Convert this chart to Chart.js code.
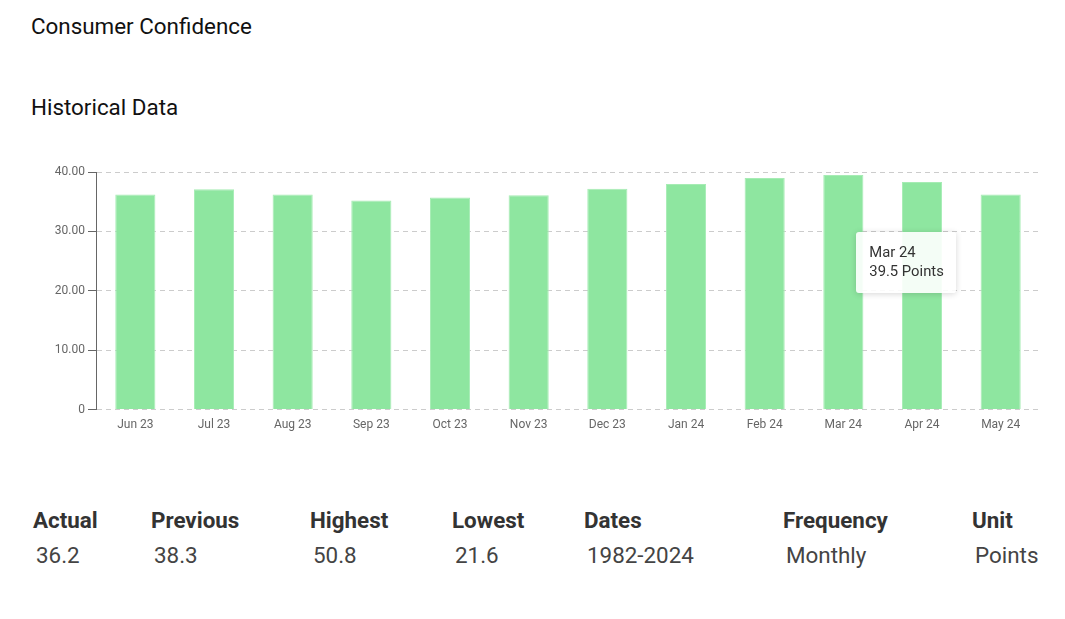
<!DOCTYPE html>
<html>
<head>
<meta charset="utf-8">
<script src="https://cdn.jsdelivr.net/npm/chart.js@4/dist/chart.umd.min.js"></script>
<style>
	body { margin: 0; background: #fff; font-family: Roboto, sans-serif; color: #222; }
	.page { position: relative; width: 1065px; height: 619px; overflow: hidden; }
	.title { position: absolute; left: 31px; font-size: 22.4px; line-height: 26px; color: #111; }
	.chart-wrap { position: absolute; left: 0; top: 150px; width: 1065px; height: 290px; }
	.stat { position: absolute; top: 507px; }
	.stat-label { font-weight: 700; font-size: 22.4px; line-height: 26px; color: #333; }
	.stat-value { font-size: 22.4px; line-height: 26px; color: #444; margin-top: 9px; padding-left: 3px; }
	.tip {
		position: absolute; pointer-events: none; background: rgba(255, 255, 255, 0.9);
		border-radius: 3px; box-shadow: 0 1px 6px rgba(0, 0, 0, 0.16);
		padding: 11px 12px 12px 13px; font-size: 14.8px; line-height: 19px; color: #333; white-space: nowrap;
	}
</style>
</head>
<body>
<div class="page">
	<div class="title" style="top:13px">Consumer Confidence</div>
	<div class="title" style="top:94px">Historical Data</div>
	<div class="chart-wrap"><canvas id="chart"></canvas></div>
	<div id="stats"></div>
</div>
<script>
'use strict'

const labels = ['Jun 23', 'Jul 23', 'Aug 23', 'Sep 23', 'Oct 23', 'Nov 23', 'Dec 23', 'Jan 24', 'Feb 24', 'Mar 24', 'Apr 24', 'May 24']
const values = [36.2, 37.1, 36.2, 35.2, 35.7, 36.1, 37.2, 38.0, 39.0, 39.5, 38.3, 36.2]
const yTicks = [0, 10, 20, 30, 40]
const unit = 'Points'

const statNames = ['Actual', 'Previous', 'Highest', 'Lowest', 'Dates', 'Frequency', 'Unit']
const statValues = ['36.2', '38.3', '50.8', '21.6', '1982-2024', 'Monthly', 'Points']
const statLeft = [33, 151, 310, 452, 584, 783, 972]

function renderStats() {
	const elStats = document.getElementById('stats')
	elStats.innerHTML = statNames
		.map(
			(name, i) => `
        <div class="stat" style="left:${statLeft[i]}px">
            <div class="stat-label">${name}</div>
            <div class="stat-value">${statValues[i]}</div>
        </div>`
		)
		.join('')
}

function externalTooltip(context) {
	const { chart, tooltip } = context
	let elTip = chart.canvas.parentNode.querySelector('.tip')
	if (!elTip) {
		elTip = document.createElement('div')
		elTip.className = 'tip'
		chart.canvas.parentNode.appendChild(elTip)
	}
	if (tooltip.opacity === 0) {
		elTip.style.display = 'none'
		return
	}
	const point = tooltip.dataPoints[0]
	elTip.innerHTML = `${point.label}<br>${point.raw} ${unit}`
	elTip.style.display = 'block'
	elTip.style.left = tooltip.caretX + 13 + 'px'
	elTip.style.top = tooltip.caretY + 57 + 'px'
}

function renderChart() {
	const ctx = document.getElementById('chart')
	const chart = new Chart(ctx, {
		type: 'bar',
		data: {
			labels: labels,
			datasets: [
				{
					data: values,
					backgroundColor: '#8ee6a0',
					hoverBackgroundColor: '#8ee6a0',
					borderColor: '#a6ecb4',
					borderWidth: 1,
					categoryPercentage: 1,
					barPercentage: 0.51,
				},
			],
		},
		options: {
			responsive: true,
			maintainAspectRatio: false,
			animation: false,
			layout: { padding: { top: 22, right: 25, bottom: 0, left: 0 } },
			plugins: {
				legend: { display: false },
				tooltip: { enabled: false, external: externalTooltip },
			},
			scales: {
				x: {
					grid: { display: false, drawTicks: false },
					border: { display: false },
					ticks: { color: '#666', font: { family: 'Roboto', size: 12 }, padding: 8, maxRotation: 0 },
				},
				y: {
					min: 0,
					max: 40,
					afterFit: scale => { scale.width = 96 },
					afterBuildTicks: scale => { scale.ticks = yTicks.map(v => ({ value: v })) },
					grid: { color: '#cccccc', tickColor: '#666', tickLength: 8, tickBorderDash: [] },
					border: { display: true, color: '#666', dash: [5, 4], width: 1 },
					ticks: {
						color: '#666',
						font: { family: 'Roboto', size: 12 },
						padding: 3,
						callback: v => (v === 0 ? '0' : v.toFixed(2)),
					},
				},
			},
		},
	})
	chart.tooltip.setActiveElements([{ datasetIndex: 0, index: 9 }], { x: 0, y: 0 })
	chart.update()
}

renderStats()
renderChart()
</script>
</body>
</html>
